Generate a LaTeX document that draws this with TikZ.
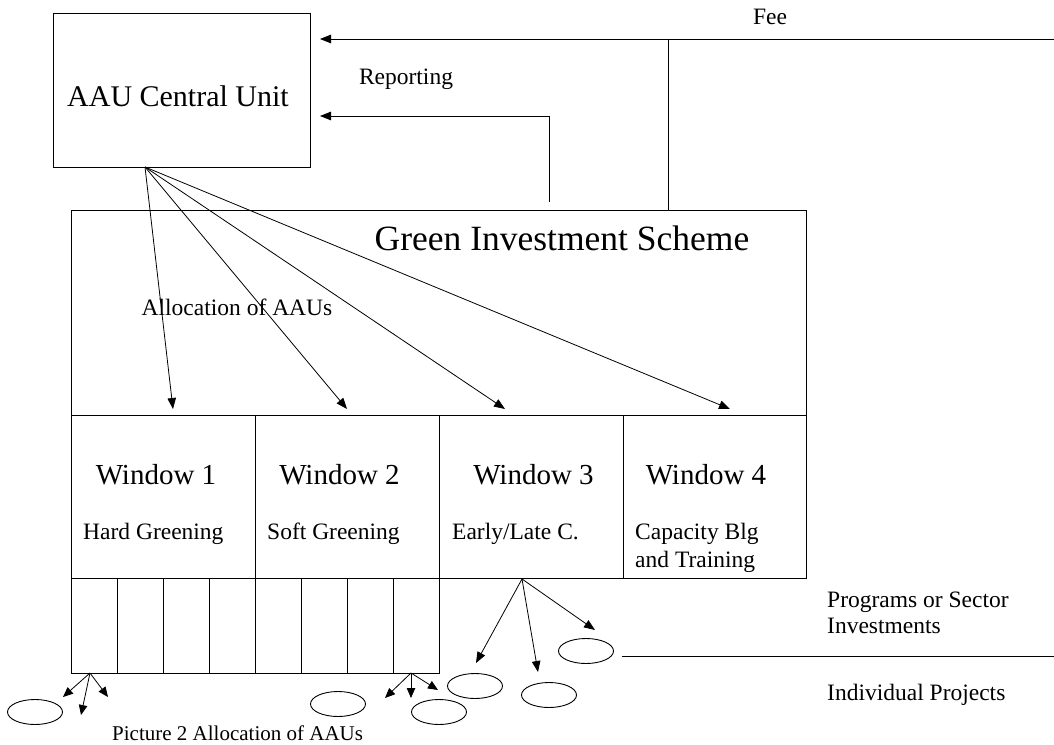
\documentclass[tikz,border=0pt]{standalone}
\usepackage{fontspec}
\setmainfont{Liberation Serif}
\usetikzlibrary{shapes.geometric,arrows.meta}
\begin{document}
\begin{tikzpicture}[x=1pt,y=-1pt,
  box/.style={draw,line width=1pt,inner sep=0pt,outer sep=0pt,anchor=north west},
  oval/.style={draw,ellipse,line width=0.9pt,inner sep=0pt,minimum width=55pt,minimum height=25pt},
  lbl/.style={inner sep=0pt,anchor=base west,font=\fontsize{23.5}{28}\selectfont},
  clbl/.style={inner sep=0pt,anchor=base,font=\fontsize{23.5}{28}\selectfont},
  wlbl/.style={inner sep=0pt,anchor=base,font=\fontsize{29}{34}\selectfont},
  arr/.style={-{Triangle[length=11pt,width=8.5pt]},line width=0.8pt},
  sarr/.style={-{Triangle[length=10pt,width=8.5pt]},line width=0.8pt},
  ln/.style={line width=0.9pt}
]
\useasboundingbox (0,0) rectangle (1054,744);

% boxes
\node[box,minimum width=257pt,minimum height=154pt] (aau) at (53,13) {};
\node[box,minimum width=735pt,minimum height=205pt] (gis) at (71,210) {};
\node[box,minimum width=184pt,minimum height=163pt] (w1) at (71,415) {};
\node[box,minimum width=184pt,minimum height=163pt] (w2) at (255,415) {};
\node[box,minimum width=184pt,minimum height=163pt] (w3) at (439,415) {};
\node[box,minimum width=183pt,minimum height=163pt] (w4) at (623,415) {};
\foreach \i in {0,...,7} {
  \node[box,minimum width=46pt,minimum height=95pt] (s\i) at (71+46*\i,578) {};
}

% texts
\node[inner sep=0pt,anchor=base,font=\fontsize{30}{34}\selectfont] (taau) at (178,106.5) {AAU Central Unit};
\node[inner sep=0pt,anchor=base,font=\fontsize{35.5}{40}\selectfont] (tgis) at (562,250) {Green Investment Scheme};
\node[clbl] (trep) at (406,84) {Reporting};
\node[clbl] (tfee) at (770,24) {Fee};
\node[clbl] (talloc) at (237,315) {Allocation of AAUs};
\node[wlbl] (tw1) at (156,484) {Window 1};
\node[wlbl] (tw2) at (339.5,484) {Window 2};
\node[wlbl] (tw3) at (533.5,484) {Window 3};
\node[wlbl] (tw4) at (706,484) {Window 4};
\node[lbl] (th) at (83,539) {Hard Greening};
\node[lbl] (ts) at (267,539) {Soft Greening};
\node[lbl] (te) at (452,539) {Early/Late C.};
\node[lbl] (tc1) at (635,539) {Capacity Blg};
\node[lbl] (tc2) at (635,567) {and Training};
\node[lbl] (tp1) at (827,607) {Programs or Sector};
\node[lbl] (tp2) at (827,633) {Investments};
\node[lbl] (tip) at (827,700) {Individual Projects};
\node[inner sep=0pt,anchor=base west,font=\fontsize{21}{25}\selectfont] (tcap) at (112,740) {Picture 2 Allocation of AAUs};

% ellipses
\node[oval] (e1) at (35,712) {};
\node[oval] (e2) at (338,704) {};
\node[oval] (e3) at (439,712) {};
\node[oval] (e4) at (475,686) {};
\node[oval] (e5) at (549,695) {};
\node[oval] (e6) at (586,651) {};

% Fee and reporting
\coordinate (feeR) at (1054,39);
\coordinate (feeT) at (320,39);
\coordinate (feeJ) at (668,39);
\draw[arr] (feeR) -- (feeT);
\draw[ln] (feeJ) -- (feeJ |- gis.north);
\coordinate (repS) at (549,202);
\coordinate (repT) at (320,116);
\draw[arr] (repS) |- (repT);

% allocation arrows
\coordinate (ao) at (145,167);
\coordinate (a1) at (173,409);
\coordinate (a2) at (347,409);
\coordinate (a3) at (505,409);
\coordinate (a4) at (730,409);
\foreach \t in {a1,a2,a3,a4} \draw[arr] (ao) -- (\t);

% bottom-left group
\coordinate (b1o) at (90,673);
\coordinate (b1a) at (63,697);
\coordinate (b1b) at (81,715);
\coordinate (b1c) at (108,697);
\foreach \t in {b1a,b1b,b1c} \draw[sarr] (b1o) -- (\t);
\coordinate (b2o) at (411,673);
\coordinate (b2a) at (385,698);
\coordinate (b2b) at (411,698);
\coordinate (b2c) at (438,690);
\foreach \t in {b2a,b2b,b2c} \draw[sarr] (b2o) -- (\t);

% window 3 group
\coordinate (c3o) at (522,579);
\coordinate (c3a) at (476,663);
\coordinate (c3b) at (538,672);
\coordinate (c3c) at (595,630);
\foreach \t in {c3a,c3b,c3c} \draw[arr] (c3o) -- (\t);

% separator line
\coordinate (hl1) at (622,656);
\coordinate (hl2) at (1054,656);
\draw[ln] (hl1) -- (hl2);
\end{tikzpicture}
\end{document}
